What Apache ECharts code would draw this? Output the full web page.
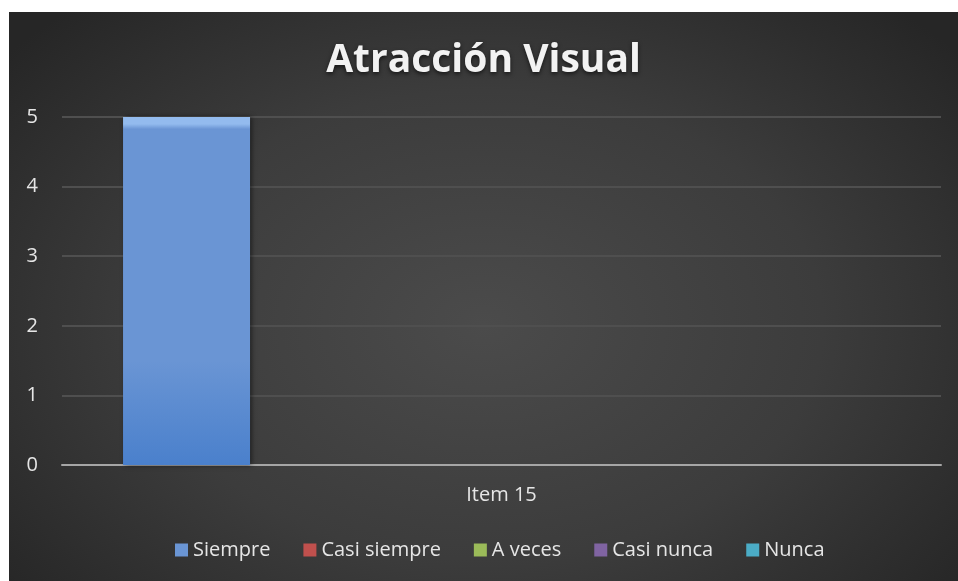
<!DOCTYPE html>
<html>
<head>
<meta charset="utf-8">
<script src="https://cdn.jsdelivr.net/npm/echarts@6/dist/echarts.min.js"></script>
<style>
html,body{margin:0;padding:0;background:#ffffff;width:958px;height:581px;overflow:hidden;}
#chart{position:absolute;left:9px;top:12px;width:949px;height:569px;
background:radial-gradient(ellipse 65% 75% at 50% 55%, #4b4b4b 0%, #3c3c3c 55%, #262626 100%);}
</style>
</head>
<body>
<div id="chart"></div>
<script>
const titleText = 'Atracción Visual';
const categories = ['Item 15'];
const seriesNames = ['Siempre', 'Casi siempre', 'A veces', 'Casi nunca', 'Nunca'];
const siempre = [5];
const casiSiempre = [0];
const aVeces = [0];
const casiNunca = [0];
const nunca = [0];
const yTicks = [0, 1, 2, 3, 4, 5];

const seriesValues = [siempre, casiSiempre, aVeces, casiNunca, nunca];
const palette = [
  ['#93bbee', '#6a95d4', '#4a80cc'],
  ['#e07a77', '#c0504d', '#9c3a37'],
  ['#bcd57f', '#9bbb59', '#7a9a3c'],
  ['#a58ac6', '#8064a2', '#634a85'],
  ['#7dcbe0', '#4bacc6', '#2f8aa3']
];

const chart = echarts.init(document.getElementById('chart'), null, {renderer: 'canvas'});
const font = '"Open Sans", "Noto Sans", sans-serif';

chart.setOption({
  backgroundColor: 'transparent',
  animation: false,
  title: {
    text: titleText,
    left: 'center',
    top: 24,
    textStyle: {
      color: '#f2f2f2',
      fontSize: 39,
      fontWeight: 'bold',
      fontFamily: font,
      textShadowColor: 'rgba(0,0,0,0.6)',
      textShadowBlur: 4,
      textShadowOffsetY: 2
    }
  },
  legend: {
    bottom: 16,
    left: 161,
    itemWidth: 13,
    itemHeight: 13,
    itemGap: 33,
    icon: 'rect',
    textStyle: {color: '#e6e6e6', fontSize: 20, fontFamily: font, padding: [0, 0, 0, 0]},
    data: seriesNames.map((n, i) => ({name: n, itemStyle: {color: palette[i][1]}}))
  },
  grid: {left: 53, right: 17, top: 105, bottom: 116, containLabel: false},
  xAxis: {
    type: 'category',
    data: categories,
    axisLine: {show: true, lineStyle: {color: '#a6a6a6', width: 2}},
    axisTick: {show: false},
    axisLabel: {color: '#e6e6e6', fontSize: 20, fontFamily: font, margin: 20}
  },
  yAxis: {
    type: 'value',
    min: yTicks[0],
    max: yTicks[yTicks.length - 1],
    interval: 1,
    axisLine: {show: false},
    axisTick: {show: false},
    axisLabel: {color: '#e6e6e6', fontSize: 20, fontFamily: font, margin: 24},
    splitLine: {lineStyle: {color: '#4f4f4f', width: 2}}
  },
  series: seriesNames.map((name, i) => ({
    name: name,
    type: 'bar',
    data: seriesValues[i],
    barWidth: 127,
    barGap: '24%',
    itemStyle: {
      color: new echarts.graphic.LinearGradient(0, 0, 0, 1, [
        {offset: 0, color: palette[i][0]},
        {offset: 0.02, color: palette[i][0]},
        {offset: 0.035, color: palette[i][1]},
        {offset: 0.7, color: palette[i][1]},
        {offset: 1, color: palette[i][2]}
      ]),
      borderWidth: 0,
      shadowColor: i === 0 ? 'rgba(0,0,0,0.55)' : 'transparent',
      shadowBlur: i === 0 ? 5 : 0,
      shadowOffsetX: i === 0 ? 2 : 0
    }
  }))
});
</script>
</body>
</html>
